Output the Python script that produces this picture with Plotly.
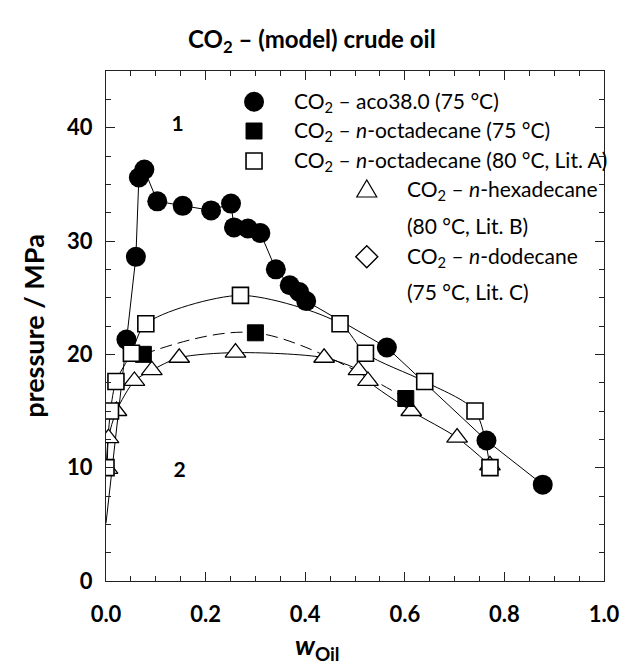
import plotly.graph_objects as go

# ---------------- data ----------------
# CO2 - aco38.0 (75 °C), filled circles
aco_w = [0.041, 0.060, 0.066, 0.077, 0.103, 0.154, 0.211, 0.251, 0.257, 0.285, 0.310,
         0.341, 0.369, 0.388, 0.402, 0.564, 0.764, 0.877]
aco_p = [21.3, 28.6, 35.6, 36.3, 33.5, 33.1, 32.7, 33.3, 31.2, 31.1, 30.7,
         27.5, 26.1, 25.5, 24.7, 20.6, 12.4, 8.5]
# start of the aco38.0 curve on the pressure axis
aco_start_w = [0.0]
aco_start_p = [5.1]

# CO2 - n-octadecane (75 °C), filled squares
oct75_w = [0.075, 0.300, 0.602]
oct75_p = [20.0, 21.9, 16.1]

# CO2 - n-octadecane (80 °C, Lit. A), open squares
oct80_w = [0.0, 0.009, 0.020, 0.051, 0.080, 0.270, 0.470, 0.521, 0.640, 0.741, 0.771]
oct80_p = [10.0, 15.0, 17.6, 20.1, 22.7, 25.2, 22.7, 20.1, 17.6, 15.0, 10.0]

# CO2 - n-hexadecane (80 °C, Lit. B), open triangles
hex_w = [0.003, 0.005, 0.021, 0.057, 0.092, 0.147, 0.260, 0.438, 0.507, 0.526, 0.613, 0.705, 0.771]
hex_p = [9.9, 12.6, 15.0, 17.65, 18.6, 19.7, 20.15, 19.7, 18.6, 17.65, 15.0, 12.65, 10.2]

# region labels
region_text = ["1", "2"]
region_w = [0.144, 0.148]
region_p = [40.2, 9.6]

FONT = "Lato"
BLACK = "#000000"

fig = go.Figure()

# ---------------- lines ----------------
fig.add_trace(go.Scatter(x=aco_start_w + aco_w, y=aco_start_p + aco_p, mode="lines",
                         line=dict(color=BLACK, width=1), hoverinfo="skip"))
fig.add_trace(go.Scatter(x=hex_w, y=hex_p, mode="lines",
                         line=dict(color=BLACK, width=1, shape="spline", smoothing=0.8),
                         hoverinfo="skip"))
fig.add_trace(go.Scatter(x=oct75_w, y=oct75_p, mode="lines",
                         line=dict(color=BLACK, width=1, shape="spline", smoothing=1.0,
                                   dash="12px,6px"),
                         hoverinfo="skip"))
fig.add_trace(go.Scatter(x=oct80_w, y=oct80_p, mode="lines",
                         line=dict(color=BLACK, width=1, shape="spline", smoothing=0.8),
                         hoverinfo="skip"))

# ---------------- markers ----------------
fig.add_trace(go.Scatter(x=aco_w, y=aco_p, mode="markers",
                         marker=dict(symbol="circle", size=20, color=BLACK,
                                     line=dict(width=0))))
fig.add_trace(go.Scatter(x=hex_w, y=hex_p, mode="markers",
                         marker=dict(symbol="triangle-up", size=18, color="white",
                                     line=dict(width=1.3, color=BLACK))))
fig.add_trace(go.Scatter(x=oct75_w, y=oct75_p, mode="markers",
                         marker=dict(symbol="square", size=16, color=BLACK,
                                     line=dict(width=1, color=BLACK))))
fig.add_trace(go.Scatter(x=oct80_w, y=oct80_p, mode="markers",
                         marker=dict(symbol="square", size=16, color="white",
                                     line=dict(width=1.6, color=BLACK))))

# region labels
fig.add_trace(go.Scatter(x=region_w, y=region_p, mode="text", text=region_text,
                         textfont=dict(family=FONT, size=21, color=BLACK, weight="bold"),
                         textposition="middle center", hoverinfo="skip"))

# ---------------- manual legend ----------------
L, T, W, H = 106, 71, 508, 510


def px(x):
    return (x - L) / W


def py(y):
    return (T + H - y) / H


shapes = []
# circle
shapes.append(dict(type="circle", xref="paper", yref="paper", xsizemode="pixel", ysizemode="pixel",
                   xanchor=px(257), yanchor=py(101.7), x0=-10, x1=10, y0=-10, y1=10,
                   fillcolor=BLACK, line=dict(width=0)))
# filled square
shapes.append(dict(type="rect", xref="paper", yref="paper", xsizemode="pixel", ysizemode="pixel",
                   xanchor=px(257), yanchor=py(131), x0=-8, x1=8, y0=-8, y1=8,
                   fillcolor=BLACK, line=dict(width=1, color=BLACK)))
# open square
shapes.append(dict(type="rect", xref="paper", yref="paper", xsizemode="pixel", ysizemode="pixel",
                   xanchor=px(257), yanchor=py(161), x0=-8, x1=8, y0=-8, y1=8,
                   fillcolor="white", line=dict(width=1.6, color=BLACK)))
# triangle
shapes.append(dict(type="path", xref="paper", yref="paper", xsizemode="pixel", ysizemode="pixel",
                   xanchor=px(372), yanchor=py(190), path="M -10,-7 L 10,-7 L 0,10 Z",
                   fillcolor="white", line=dict(width=1.2, color=BLACK)))
# diamond
shapes.append(dict(type="path", xref="paper", yref="paper", xsizemode="pixel", ysizemode="pixel",
                   xanchor=px(372), yanchor=py(256.7), path="M -11,0 L 0,11 L 11,0 L 0,-11 Z",
                   fillcolor="white", line=dict(width=1.4, color=BLACK)))

leg_font = dict(family=FONT, size=21, color=BLACK)
leg_items = [
    ("CO<sub>2</sub> – aco38.0 (75 °C)", 296, 101.7),
    ("CO<sub>2</sub> – <i>n</i>-octadecane (75 °C)", 296, 131),
    ("CO<sub>2</sub> – <i>n</i>-octadecane (80 °C, Lit. A)", 296, 161),
    ("CO<sub>2</sub> – <i>n</i>-hexadecane", 411, 190),
    ("(80 °C, Lit. B)", 411, 225),
    ("CO<sub>2</sub> – <i>n</i>-dodecane", 411, 256.7),
    ("(75 °C, Lit. C)", 411, 291),
]
annotations = []
for txt, x, y in leg_items:
    annotations.append(dict(text=txt, xref="paper", yref="paper", x=px(x), y=py(y),
                            xanchor="left", yanchor="middle", showarrow=False, font=leg_font))

# title
annotations.append(dict(text="<b>CO<sub>2</sub> – (model) crude oil</b>", xref="paper", yref="paper",
                        x=px(316), y=py(40), xanchor="center", yanchor="middle", showarrow=False,
                        font=dict(family=FONT, size=24, color=BLACK)))
# x axis title
annotations.append(dict(text="<b><i>w</i><sub>Oil</sub></b>", xref="paper", yref="paper",
                        x=px(322), y=py(646), xanchor="center", yanchor="middle", showarrow=False,
                        font=dict(family=FONT, size=27, color=BLACK)))

axis_common = dict(showline=True, linecolor="#222222", linewidth=1.3, mirror="ticks",
                   ticks="inside", ticklen=9, tickwidth=1.3, tickcolor="#222222",
                   showgrid=False, zeroline=False,
                   tickfont=dict(family=FONT, size=22, color=BLACK, weight="bold"))

fig.update_layout(
    width=632, height=672,
    margin=dict(l=L, r=632 - L - W, t=T, b=672 - T - H),
    plot_bgcolor="white", paper_bgcolor="white",
    showlegend=False,
    shapes=shapes, annotations=annotations,
    xaxis=dict(range=[0, 1], tickvals=[0, 0.2, 0.4, 0.6, 0.8, 1.0], tickformat=".1f",
               minor=dict(dtick=0.05, ticks="inside", ticklen=5, tickwidth=1.1, tickcolor="#222222"),
               ticklabelstandoff=13, **axis_common),
    yaxis=dict(range=[0, 45], tickvals=[0, 10, 20, 30, 40],
               minor=dict(dtick=2.5, ticks="inside", ticklen=5, tickwidth=1.1, tickcolor="#222222"),
               ticklabelstandoff=8,
               title=dict(text="<b>pressure / MPa</b>", font=dict(family=FONT, size=27, color=BLACK),
                          standoff=14),
               **axis_common),
)

fig.write_html("out.html")
